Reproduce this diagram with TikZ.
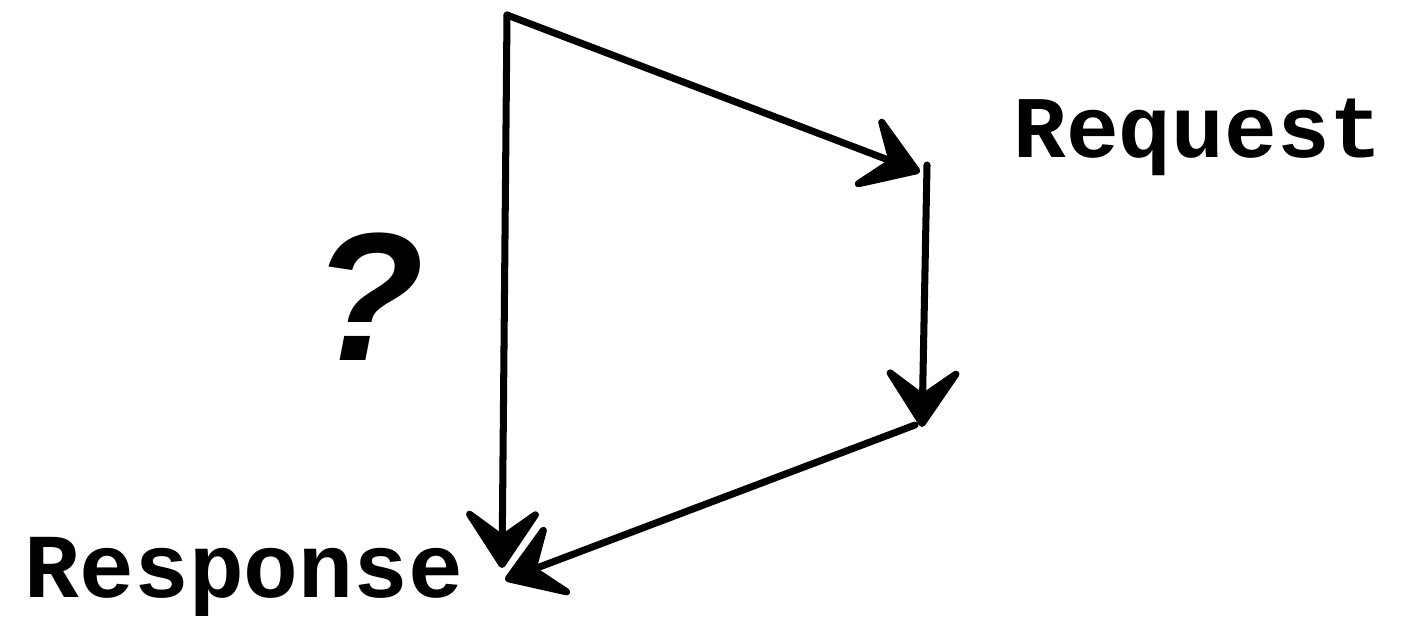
\documentclass[tikz,border=0pt]{standalone}
\usepackage{fontspec}
\newfontfamily\monofont{Liberation Mono}
\newfontfamily\qfont{Liberation Sans}
\usetikzlibrary{arrows.meta}
\begin{document}
\begin{tikzpicture}[
  flow/.style={line width=2pt,line cap=round,
    -{Stealth[length=7mm,width=9.2mm,inset=3.3mm,round]}},
  lbl/.style={font=\monofont\bfseries\fontsize{25}{30}\selectfont,anchor=base}]
  \useasboundingbox (0,0) rectangle (14.06,6.23);
  \coordinate (top) at (5.07,6.08);
  \coordinate (reqin) at (9.20,4.51);
  \coordinate (reqout) at (9.27,4.58);
  \coordinate (back) at (9.22,1.96);
  \coordinate (backout) at (9.15,1.98);
  \coordinate (respa) at (5.02,0.55);
  \coordinate (respb) at (5.05,0.43);
  \draw[flow] (top)--(reqin);
  \draw[flow] (reqout)--(back);
  \draw[flow] (backout)--(respb);
  \draw[flow] (top)--(respa);
  \node[lbl] (req) at (11.98,4.66){Request};
  \node[lbl,font=\monofont\bfseries\fontsize{26}{30}\selectfont] (resp) at (2.44,0.26){Response};
  \node[font=\qfont\bfseries\itshape\fontsize{52}{60}\selectfont] (q) at (3.68,3.26){?};
\end{tikzpicture}
\end{document}
